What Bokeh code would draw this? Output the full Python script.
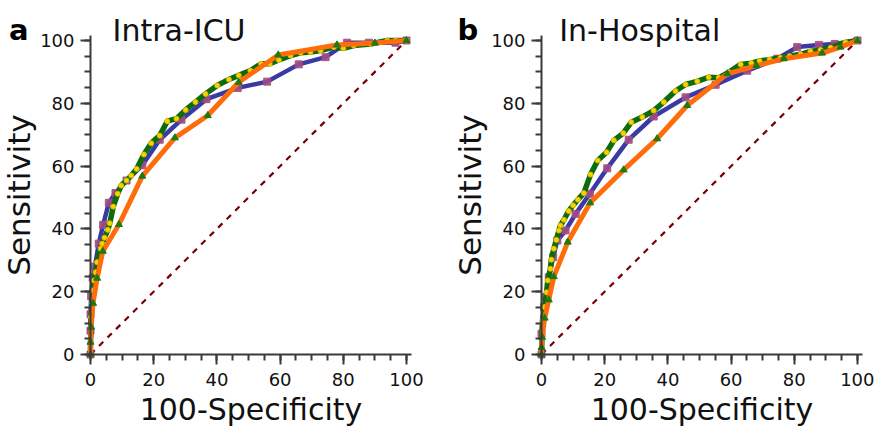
from bokeh.plotting import figure
from bokeh.models import Range1d, SingleIntervalTicker, Label
from bokeh.layouts import row
from bokeh.embed import file_html
from bokeh.resources import INLINE

# ---------------- data ----------------
panel_titles = ["Intra-ICU", "In-Hospital"]
panel_letters = ["a", "b"]
x_label = "100-Specificity"
y_label = "Sensitivity"

diag_x = [0, 100]
diag_y = [0, 100]

# Panel a (Intra-ICU)
a_blue_x = [0, 0, 0, 0.2, 0.7, 1.4, 2.6, 4.0, 5.8, 7.9, 11.4, 16.4, 21.9, 28.8, 36.7, 46.6, 55.9, 65.9, 74.4, 81.2, 88.1, 96.5, 100]
a_blue_y = [0, 7.6, 12.8, 18.6, 24.4, 28.0, 35.3, 41.3, 48.3, 51.4, 55.4, 60.3, 68.4, 74.8, 81.3, 84.9, 86.9, 92.4, 94.7, 99.3, 99.3, 99.3, 100]

a_green_x = [0, 0, 0.2, 0.2, 0.5, 0.7, 1.1, 1.6, 2.1, 3.2, 3.7, 4.4, 5.5, 6.1, 7.2, 8.6, 9.7, 11.4, 12.9, 14.6, 16.9, 19.2, 21.9, 24.3, 27.2, 30.1, 33.2, 36.4, 40.1, 43.8, 46.9, 50.6, 54.0, 56.7, 59.6, 63.3, 66.5, 69.6, 72.8, 77.0, 80.0, 83.3, 88.6, 93.9, 96.5, 100]
a_green_y = [0, 3.9, 8.7, 11.9, 16.3, 20.4, 23.6, 26.2, 29.4, 33.7, 35.3, 37.2, 39.7, 41.8, 47.1, 51.2, 53.8, 55.4, 57.0, 59.1, 63.7, 67.3, 69.7, 74.3, 75.1, 77.9, 80.4, 83.0, 85.7, 87.6, 88.9, 90.4, 92.6, 92.6, 93.8, 95.2, 96.1, 96.3, 96.8, 97.9, 97.5, 98.4, 98.9, 100, 100, 100]

a_orange_x = [0, 0, 0.2, 0.8, 2.1, 3.9, 9.0, 16.4, 26.7, 37.1, 46.9, 59.4, 78.0, 90.0, 100]
a_orange_y = [0, 3.9, 8.7, 16.3, 24.3, 32.9, 41.4, 56.8, 69.0, 76.1, 86.7, 95.4, 98.6, 99.2, 100]

# Panel b (In-Hospital)
b_blue_x = [0, 0, 0.8, 1.4, 2.3, 3.7, 5.0, 7.6, 10.8, 15.3, 20.8, 27.6, 35.5, 45.6, 55.1, 65.1, 74.6, 80.9, 87.8, 92.8, 100]
b_blue_y = [0, 6.6, 15.1, 18.3, 24.6, 31.0, 36.3, 39.5, 44.8, 51.2, 59.3, 68.4, 75.8, 81.9, 85.9, 90.4, 94.2, 97.9, 98.6, 98.9, 100]

b_green_x = [0, 0.3, 1.0, 1.6, 2.0, 2.8, 3.1, 3.9, 4.7, 5.5, 6.0, 7.1, 8.6, 10.0, 11.5, 13.4, 15.5, 17.8, 20.6, 22.9, 25.9, 28.4, 31.9, 35.5, 38.7, 42.4, 45.6, 49.3, 52.9, 56.1, 59.3, 63.0, 66.4, 69.0, 72.2, 75.6, 78.5, 82.0, 85.1, 88.3, 91.5, 96.2, 100]
b_green_y = [0, 10.8, 15.1, 19.8, 23.6, 27.3, 30.2, 33.7, 36.5, 39.5, 41.1, 42.9, 45.7, 47.5, 49.3, 51.4, 57.3, 61.8, 64.4, 68.2, 70.5, 74.0, 75.6, 77.7, 80.4, 83.9, 86.0, 87.0, 88.3, 88.1, 89.9, 92.4, 92.8, 93.5, 93.9, 94.5, 95.0, 95.6, 96.5, 97.0, 97.7, 99.4, 100]

b_orange_x = [0, 0, 0.2, 1.0, 2.3, 3.9, 8.3, 15.4, 26.0, 36.6, 46.1, 58.8, 68.0, 76.7, 88.8, 94.6, 100]
b_orange_y = [0, 2.2, 5.5, 11.6, 17.4, 24.8, 35.8, 48.3, 58.8, 68.7, 79.3, 89.4, 92.0, 94.2, 96.0, 97.9, 100]

ticks_major = 20
ticks_minor = 4
axis_extent = (0, 101.5)

# ---------------- styles / layout ----------------
FONT = "DejaVu Sans"
BLUE = "#3a3aa6"
SQUARE = "#a24d82"
GREEN = "#0c6c0c"
YELLOW = "#f7d400"
ORANGE = "#ff6d0a"
TRI = "#1c7a12"
DIAG = "#7a0000"
AXIS = "#3a3a3a"

H = 441
PX_X = 3.16   # pixels per data unit, x
PX_Y = 3.14   # pixels per data unit, y
ORIGIN_Y = 354  # pixel row of y=0 (from top)


def make_panel(idx, bx, by, gx, gy, ox, oy, width, origin_x, letter_x, title_x):
    x_range = Range1d(-origin_x / PX_X, (width - origin_x) / PX_X)
    y_range = Range1d(-(H - ORIGIN_Y) / PX_Y, ORIGIN_Y / PX_Y)
    p = figure(width=width, height=H, x_range=x_range, y_range=y_range,
               output_backend="svg", toolbar_location=None, title=None,
               min_border=0, min_border_left=0, min_border_right=0,
               min_border_top=0, min_border_bottom=0)
    p.outline_line_color = None
    p.grid.visible = False
    p.background_fill_color = "white"
    p.border_fill_color = "white"

    for ax in (p.xaxis[0], p.yaxis[0]):
        ax.fixed_location = 0
        ax.bounds = axis_extent
        ax.ticker = SingleIntervalTicker(interval=ticks_major, num_minor_ticks=ticks_minor)
        ax.axis_line_color = AXIS
        ax.axis_line_width = 2
        ax.major_tick_line_color = AXIS
        ax.major_tick_line_width = 2
        ax.minor_tick_line_color = AXIS
        ax.minor_tick_line_width = 2
        ax.major_tick_in = 0
        ax.major_tick_out = 10
        ax.minor_tick_in = 0
        ax.minor_tick_out = 6
        ax.major_label_text_font = FONT
        ax.major_label_text_font_size = "18px"
        ax.major_label_text_color = "#111111"
        ax.axis_label_text_font = FONT
        ax.axis_label_text_font_style = "normal"
        ax.axis_label_text_color = "#111111"
    p.xaxis[0].axis_label = x_label
    p.xaxis[0].axis_label_text_font_size = "30px"
    p.xaxis[0].major_label_standoff = 8
    p.xaxis[0].axis_label_standoff = 3
    p.yaxis[0].axis_label = y_label
    p.yaxis[0].axis_label_text_font_size = "31px"
    p.yaxis[0].major_label_standoff = 6
    p.yaxis[0].axis_label_standoff = 0

    # chance diagonal
    p.line(diag_x, diag_y, line_color=DIAG, line_width=2.2, line_dash="6 6")
    # blue curve with squares
    p.line(bx, by, line_color=BLUE, line_width=4.5)
    p.scatter(bx, by, marker="square", size=7, fill_color=SQUARE, line_color=SQUARE, alpha=0.9)
    # green curve with yellow dots
    p.line(gx, gy, line_color=GREEN, line_width=5.5)
    p.scatter(gx, gy, marker="circle", size=5, fill_color=YELLOW, line_color="#e0b800", line_width=1)
    # orange curve with green triangles
    p.line(ox, oy, line_color=ORANGE, line_width=5)
    p.scatter(ox, oy, marker="triangle", size=7, fill_color=TRI, line_color=TRI)

    # panel letter and title
    p.add_layout(Label(x=letter_x, y=103.2, text=panel_letters[idx], text_font=FONT,
                       text_font_size="29px", text_font_style="bold",
                       text_baseline="alphabetic", text_color="#000000"))
    p.add_layout(Label(x=title_x, y=103.2, text=panel_titles[idx], text_font=FONT,
                       text_font_size="30px", text_baseline="alphabetic", text_color="#111111"))
    return p


pa = make_panel(0, a_blue_x, a_blue_y, a_green_x, a_green_y, a_orange_x, a_orange_y,
                440, 90, -25.8, 7.0)
pb = make_panel(1, b_blue_x, b_blue_y, b_green_x, b_green_y, b_orange_x, b_orange_y,
                434, 101, -26.6, 5.6)

layout = row(pa, pb)
open("out.html", "w").write(file_html(layout, INLINE))
